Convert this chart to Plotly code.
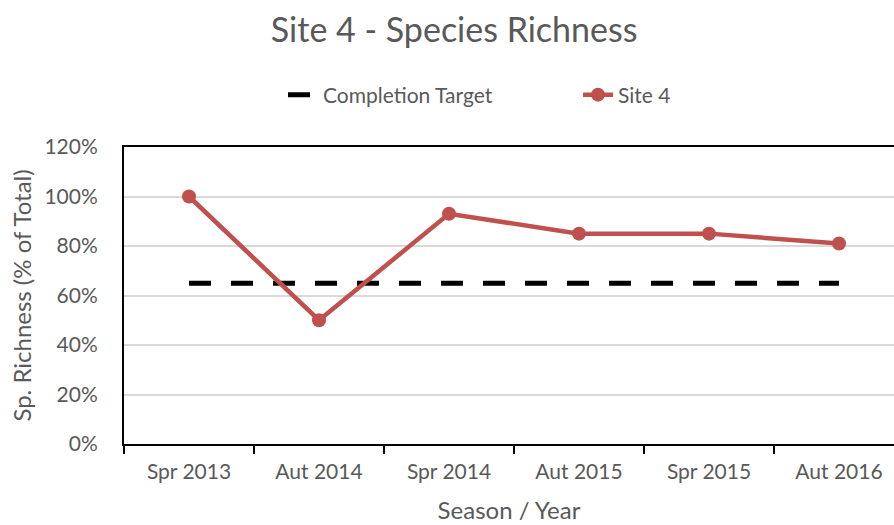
import plotly.graph_objects as go

seasons = ["Spr 2013", "Aut 2014", "Spr 2014", "Aut 2015", "Spr 2015", "Aut 2016"]
site4 = [1.00, 0.50, 0.93, 0.85, 0.85, 0.81]
target = [0.65, 0.65, 0.65, 0.65, 0.65, 0.65]
y_ticks = [0, 0.2, 0.4, 0.6, 0.8, 1.0, 1.2]

FONT = "Lato, 'Open Sans', sans-serif"
GREY = "#595959"

fig = go.Figure()
fig.add_trace(go.Scatter(
    x=seasons, y=target, name="Completion Target", mode="lines",
    line=dict(color="black", width=5, dash="22px,20px"),
))
fig.add_trace(go.Scatter(
    x=seasons, y=site4, name="Site 4", mode="lines+markers",
    line=dict(color="#C0504D", width=4.5),
    marker=dict(color="#C0504D", size=14),
))

fig.update_layout(
    width=894, height=525,
    margin=dict(l=124, r=0, t=147, b=81),
    paper_bgcolor="white", plot_bgcolor="white",
    font=dict(family=FONT, color=GREY, size=18),
    title=dict(text="Site 4 - Species Richness", x=0.508, xanchor="center",
               y=0.942, yanchor="middle", font=dict(size=34, color=GREY, family=FONT)),
    legend=dict(orientation="h", x=0.2065, xanchor="left", y=1.175, yanchor="middle",
                font=dict(size=21, color=GREY), entrywidth=250, entrywidthmode="pixels",
                traceorder="normal"),
    showlegend=True,
)
fig.update_xaxes(
    type="category", range=[-0.5, 5.423],
    showline=True, linecolor="black", linewidth=2, mirror=True,
    ticks="outside", tickson="boundaries", ticklen=8, tickcolor="black", tickwidth=2,
    showgrid=False, ticklabelstandoff=8,
    tickfont=dict(size=21, color=GREY),
    title=dict(text="Season / Year", font=dict(size=24, color=GREY), standoff=20),
)
fig.update_yaxes(
    range=[0, 1.2], tickvals=y_ticks, tickformat=".0%",
    showline=True, linecolor="black", linewidth=2,
    showgrid=True, gridcolor="#D9D9D9", gridwidth=2,
    zeroline=False, ticks="", ticklabelstandoff=20,
    tickfont=dict(size=21, color=GREY),
    title=dict(text="Sp. Richness (% of Total)", font=dict(size=24, color=GREY), standoff=6),
)

fig.write_html("out.html", config={"displayModeBar": False},
               post_script="document.body.style.margin='0';")
